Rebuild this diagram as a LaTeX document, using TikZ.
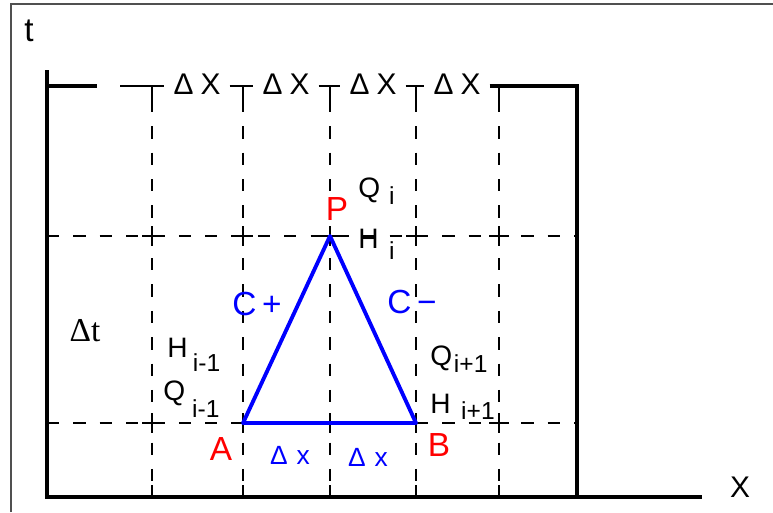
\documentclass[tikz,border=0pt]{standalone}
\usepackage{fontspec}
\setmainfont{Liberation Sans}
\newfontfamily\serifdt{Liberation Serif}
\usetikzlibrary{calc}
\definecolor{charblue}{HTML}{0000FF}
\definecolor{charred}{HTML}{FF0000}
\definecolor{framegray}{HTML}{505050}
\newcommand\lowidx[2]{\raisebox{#1}{\fontsize{14}{16}\selectfont #2}}

\begin{document}
\begin{tikzpicture}[x=0.02cm, y=-0.02cm,
    axis/.style={line width=2.8pt, line cap=rect},
    gridline/.style={line width=1.1pt, dash pattern=on 7pt off 8pt},
    crossmark/.style={line width=1.1pt},
    lbl/.style={font=\fontsize{16}{18}\selectfont, inner sep=0pt},
    pointlbl/.style={font=\fontsize{19}{21}\selectfont, inner sep=0pt, charred},
    charlbl/.style={font=\fontsize{19}{21}\selectfont, inner sep=0pt, charblue},
    steplbl/.style={font=\fontsize{17}{19}\selectfont, inner sep=5pt}]
  \useasboundingbox[fill=white] (0,0) rectangle (773,512);
  % frame
  \draw[framegray, line width=1.2pt] (11,512) -- (11,4) -- (773,4);

  % axes
  \draw[axis] (47,72) -- (47,497) -- (700,497);
  \draw[axis] (577,86) -- (577,497);
  \draw[line width=1.8pt] (47,86) -- (97,86);
  \node[lbl, font=\fontsize{19}{21}\selectfont] (tlab) at (29,31) {t};
  \node[lbl, font=\fontsize{17}{19}\selectfont] (xlab) at (740,487) {X};

  % step labels on top
  \node[steplbl] (dx1) at (197,84) {Δ\hspace{4pt}X};
  \node[steplbl] (dx2) at (286,84) {Δ\hspace{4pt}X};
  \node[steplbl] (dx3) at (373,84) {Δ\hspace{4pt}X};
  \node[steplbl] (dx4) at (457,84) {Δ\hspace{4pt}X};
  \draw[line width=1.4pt] (120,86) -- (dx1.west |- 0,86);
  \draw[line width=1.4pt] (dx1.east |- 0,86) -- (dx2.west |- 0,86);
  \draw[line width=1.4pt] (dx2.east |- 0,86) -- (dx3.west |- 0,86);
  \draw[line width=1.4pt] (dx3.east |- 0,86) -- (dx4.west |- 0,86);
  \draw[line width=1.8pt] (dx4.east |- 0,86) -- (577,86);

  % grid
  \foreach \xx in {152,243,330,416,499} {
    \draw[gridline] (\xx,100) -- (\xx,485);
    \draw[crossmark] (\xx,86) -- (\xx,100);
    \draw[crossmark] (\xx,485) -- (\xx,497);
  }
  \foreach \yy in {236,423} {
    \draw[gridline] (47,\yy) -- (577,\yy);
    \foreach \xx in {152,243,330,416,499}
      \draw[crossmark] (\xx-10,\yy) -- (\xx+10,\yy) (\xx,\yy-10) -- (\xx,\yy+10);
  }

  % characteristics
  \coordinate (ptA) at (243,423);
  \coordinate (ptB) at (416,423);
  \coordinate (ptP) at (330,236);
  \draw[charblue, line width=2.2pt, line join=round] (ptA) -- (ptP) -- (ptB) -- cycle;

  \node[pointlbl] (P) at (337,209) {P};
  \node[pointlbl] (A) at (221,449) {A};
  \node[pointlbl] (B) at (439,445) {B};
  \node[charlbl] (Cplus) at (257,304) {C\,+};
  \node[charlbl] (Cminus) at (412,302) {C\,−};
  \node[charblue, lbl, font=\fontsize{15}{17}\selectfont] (dxa) at (290,455) {Δ\hspace{5pt}x};
  \node[charblue, lbl, font=\fontsize{15}{17}\selectfont] (dxb) at (368,457) {Δ\hspace{5pt}x};

  % unknowns
  \node[lbl, anchor=base west] (Qi) at (358,197) {Q\hspace{5pt}\lowidx{-4.5pt}{i}};
  \node[lbl, anchor=base west] (Hi) at (358,248) {H\hspace{6pt}\lowidx{-6.8pt}{i}};
  \node[lbl, anchor=base west] (Him) at (167,357) {H\hspace{3pt}\lowidx{-8.5pt}{i-1}};
  \node[lbl, anchor=base west] (Qim) at (163,400) {Q\hspace{4pt}\lowidx{-10pt}{i-1}};
  \node[lbl, anchor=base west] (Qip) at (430,365) {Q\hspace{1pt}\lowidx{-4pt}{i+1}};
  \node[lbl, anchor=base west] (Hip) at (430,413) {H\hspace{6pt}\lowidx{-3.5pt}{i+1}};
  \node[lbl, font=\serifdt\fontsize{19}{21}\selectfont] (dt) at (85,331) {Δt};
\end{tikzpicture}
\end{document}
